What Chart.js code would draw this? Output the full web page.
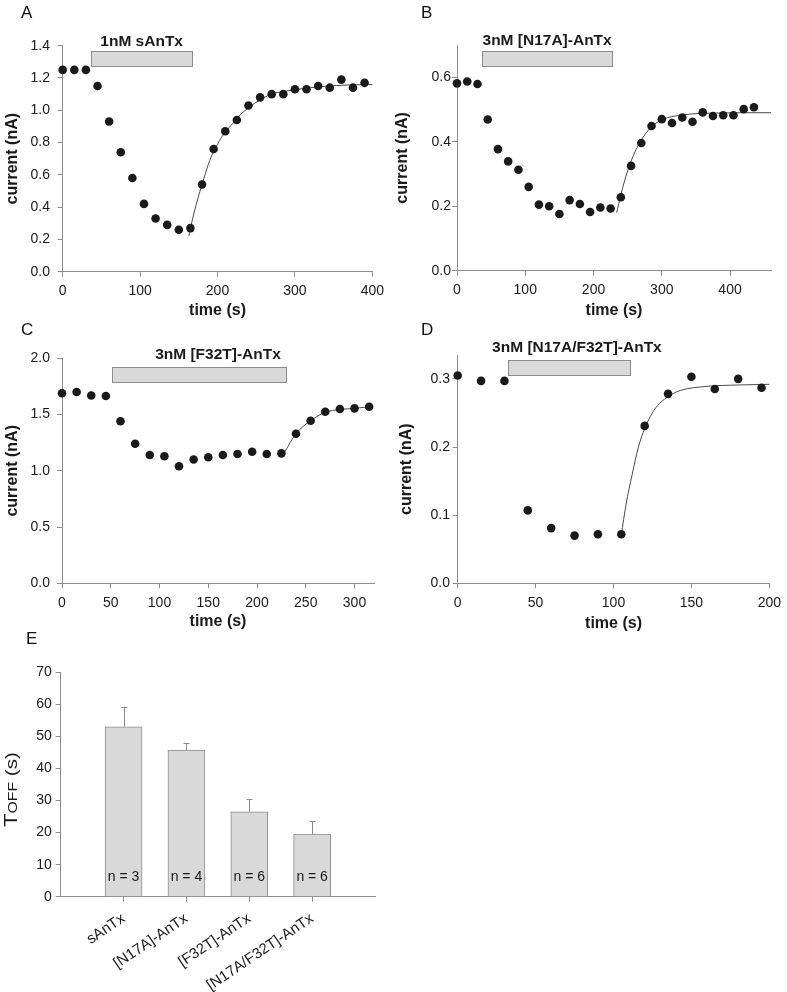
<!DOCTYPE html>
<html>
<head>
<meta charset="utf-8">
<script src="https://cdn.jsdelivr.net/npm/chart.js@4.4.0/dist/chart.umd.min.js"></script>
<style>
  html, body { margin: 0; padding: 0; background: #fff; }
  #fig { position: relative; width: 787px; height: 992px; overflow: hidden; font-family: 'Liberation Sans', Arial, sans-serif; }
  #fig canvas { position: absolute; }
  .tag { position: absolute; font-size: 17px; line-height: 17px; color: #111; }
</style>
</head>
<body>
<div id="fig">
  <canvas id="cA" width="390" height="330" style="left:0;top:0"></canvas>
  <canvas id="cB" width="397" height="330" style="left:390px;top:0"></canvas>
  <canvas id="cC" width="390" height="305" style="left:0;top:330px"></canvas>
  <canvas id="cD" width="397" height="305" style="left:390px;top:330px"></canvas>
  <canvas id="cE" width="400" height="362" style="left:0;top:630px"></canvas>
  <div class="tag" style="left:21px;top:4px">A</div>
  <div class="tag" style="left:421px;top:4px">B</div>
  <div class="tag" style="left:21px;top:321px">C</div>
  <div class="tag" style="left:421px;top:321px">D</div>
  <div class="tag" style="left:26px;top:630px">E</div>
</div>
<script>
// ---- data ----
// A: 1nM sAnTx
const timeA = [0, 15, 30, 45, 60, 75, 90, 105, 120, 135, 150, 165, 180, 195, 210, 225, 240, 255, 270, 285, 300, 315, 330, 345, 360, 375, 390];
const currentA = [1.25, 1.25, 1.25, 1.15, 0.93, 0.74, 0.58, 0.42, 0.33, 0.29, 0.26, 0.27, 0.54, 0.76, 0.87, 0.94, 1.03, 1.08, 1.10, 1.10, 1.13, 1.13, 1.15, 1.14, 1.19, 1.14, 1.17];
const fitTimeA = [163, 166, 170, 175, 180, 190, 200, 210, 220, 230, 240, 255, 270, 290, 320, 360, 400];
const fitA = [0.22, 0.29, 0.37, 0.46, 0.54, 0.69, 0.79, 0.865, 0.92, 0.975, 1.015, 1.065, 1.10, 1.12, 1.14, 1.155, 1.16];

// B: 3nM [N17A]-AnTx
const timeB = [0, 15, 30, 45, 60, 75, 90, 105, 120, 135, 150, 165, 180, 195, 210, 225, 240, 255, 270, 285, 300, 315, 330, 345, 360, 375, 390, 405, 420, 435];
const currentB = [0.581, 0.587, 0.579, 0.469, 0.377, 0.339, 0.313, 0.26, 0.205, 0.20, 0.176, 0.219, 0.207, 0.182, 0.196, 0.193, 0.228, 0.325, 0.396, 0.449, 0.47, 0.458, 0.475, 0.462, 0.491, 0.48, 0.482, 0.482, 0.501, 0.507];
const fitTimeB = [234, 240, 250, 260, 270, 280, 290, 300, 315, 330, 350, 380, 420, 460];
const fitB = [0.18, 0.235, 0.31, 0.365, 0.405, 0.435, 0.455, 0.468, 0.478, 0.483, 0.487, 0.489, 0.49, 0.49];

// C: 3nM [F32T]-AnTx
const timeC = [0, 15, 30, 45, 60, 75, 90, 105, 120, 135, 150, 165, 180, 195, 210, 225, 240, 255, 270, 285, 300, 315];
const currentC = [1.69, 1.70, 1.67, 1.665, 1.44, 1.24, 1.14, 1.13, 1.04, 1.10, 1.12, 1.14, 1.15, 1.17, 1.15, 1.155, 1.33, 1.445, 1.525, 1.55, 1.555, 1.57];
const fitTimeC = [228, 240, 255, 270, 285, 300, 316];
const fitC = [1.16, 1.33, 1.445, 1.52, 1.545, 1.555, 1.57];

// D: 3nM [N17A/F32T]-AnTx
const timeD = [0, 15, 30, 45, 60, 75, 90, 105, 120, 135, 150, 165, 180, 195];
const currentD = [0.305, 0.297, 0.297, 0.107, 0.081, 0.07, 0.072, 0.072, 0.231, 0.278, 0.303, 0.285, 0.30, 0.287];
const fitTimeD = [105, 108, 112, 116, 120, 126, 135, 143, 160, 180, 200];
const fitD = [0.071, 0.115, 0.16, 0.2, 0.227, 0.254, 0.274, 0.283, 0.289, 0.291, 0.292];

// E: off time constants
const compounds = ['sAnTx', '[N17A]-AnTx', '[F32T]-AnTx', '[N17A/F32T]-AnTx'];
const tauOff = [53, 45.7, 26.5, 19.5];
const tauErr = [6.1, 2.1, 4.0, 4.1];
const nCells = [3, 4, 6, 6];

// toxin application bars (data units)
const drugA = { from: 36, to: 167, lo: 1.276, hi: 1.369, text: '1nM sAnTx', textAt: 102, textY: 1.425 };
const drugB = { from: 36, to: 227, lo: 0.634, hi: 0.680, text: '3nM [N17A]-AnTx', textAt: 132, textY: 0.7136 };
const drugC = { from: 51.6, to: 229.3, lo: 1.787, hi: 1.925, text: '3nM [F32T]-AnTx', textAt: 160, textY: 2.029 };
const drugD = { from: 32.2, to: 110.6, lo: 0.306, hi: 0.328, text: '3nM [N17A/F32T]-AnTx', textAt: 76.5, textY: 0.346 };

// ---- style ----
const FONT = "'Liberation Sans', Arial, sans-serif";
const INK = '#1a1a1a', AXIS = '#8e8e8e', FILL = '#d9d9d9', EDGE = '#8c8c8c', FIT = '#4a4a4a';

const xy = (xs, ys) => xs.map((x, i) => ({ x, y: ys[i] }));

const drugBar = {
  id: 'drugBar',
  beforeDatasetsDraw(chart, args, o) {
    if (!o || !o.text) return;
    const { ctx, scales: { x, y } } = chart;
    const x0 = Math.round(x.getPixelForValue(o.from)) + 0.5, x1 = Math.round(x.getPixelForValue(o.to)) + 0.5;
    const y0 = Math.round(y.getPixelForValue(o.hi)) + 0.5, y1 = Math.round(y.getPixelForValue(o.lo)) + 0.5;
    ctx.save();
    ctx.fillStyle = FILL; ctx.fillRect(x0, y0, x1 - x0, y1 - y0);
    ctx.strokeStyle = EDGE; ctx.lineWidth = 1; ctx.strokeRect(x0, y0, x1 - x0, y1 - y0);
    ctx.font = 'bold 15.5px ' + FONT; ctx.fillStyle = INK;
    ctx.textAlign = 'center'; ctx.textBaseline = 'middle';
    ctx.fillText(o.text, x.getPixelForValue(o.textAt), y.getPixelForValue(o.textY));
    ctx.restore();
  }
};

// geometry g: canvas w/h and plot box L,T,R,B (canvas pixels)
function tickAxis(max, step, digits, extra) {
  return Object.assign({
    type: 'linear', min: 0, max,
    grid: { drawOnChartArea: false, drawTicks: true, tickLength: 5, color: AXIS },
    border: { color: AXIS, width: 1 },
    ticks: { stepSize: step, includeBounds: false, autoSkip: false, maxRotation: 0, color: INK,
      font: { family: FONT, size: 14 }, callback: (v) => Number(v).toFixed(digits) }
  }, extra);
}

function trace(id, g, t, c, ft, fc, s, drug) {
  const xAx = tickAxis(s.xmax, s.xstep, 0, {
    title: { display: true, text: 'time (s)', color: INK, font: { family: FONT, size: 16, weight: 'bold' }, padding: { top: 0, bottom: g.xtb } },
    afterFit: (sc) => { sc.height = g.h - g.B; }
  });
  xAx.ticks.padding = 6;
  const yAx = tickAxis(s.ymax, s.ystep, 1, {
    title: { display: true, text: 'current (nA)', color: INK, font: { family: FONT, size: 16, weight: 'bold' }, padding: { top: g.ytp, bottom: 0 } },
    afterFit: (sc) => { sc.width = g.L; }
  });
  yAx.ticks.padding = g.ypad;
  return new Chart(document.getElementById(id), {
    type: 'scatter',
    data: { datasets: [
      { data: xy(t, c), pointRadius: 4.3, pointHoverRadius: 4.3, pointBackgroundColor: INK, pointBorderWidth: 0, showLine: false, clip: false },
      { data: xy(ft, fc), showLine: true, pointRadius: 0, borderColor: FIT, borderWidth: 1, cubicInterpolationMode: 'monotone', clip: false }
    ] },
    options: {
      responsive: false, animation: false, events: [],
      layout: { padding: { top: g.T, right: g.w - g.R, left: 0, bottom: 0 } },
      plugins: { legend: { display: false }, tooltip: { enabled: false }, drugBar: drug },
      scales: { x: xAx, y: yAx }
    },
    plugins: [drugBar]
  });
}

trace('cA', { w: 390, h: 330, L: 62.7, T: 45.7, R: 375.7, B: 271.7, xtb: 9.4, ytp: 3.4, ypad: 7.7 },
  timeA, currentA, fitTimeA, fitA, { xmax: 400, xstep: 100, ymax: 1.4, ystep: 0.2 }, drugA);
trace('cB', { w: 397, h: 330, L: 67, T: 45, R: 381, B: 270.7, xtb: 9.9, ytp: 3.2, ypad: 1 },
  timeB, currentB, fitTimeB, fitB, { xmax: 460, xstep: 100, ymax: 0.7, ystep: 0.2 }, drugB);
trace('cC', { w: 390, h: 305, L: 62, T: 28.3, R: 374, B: 253.3, xtb: 3.7, ytp: 3.2, ypad: 7 },
  timeC, currentC, fitTimeC, fitC, { xmax: 320, xstep: 50, ymax: 2.0, ystep: 0.5 }, drugC);
trace('cD', { w: 397, h: 305, L: 67.7, T: 25, R: 382.3, B: 253.3, xtb: 2.1, ytp: 6.7, ypad: 2.7 },
  timeD, currentD, fitTimeD, fitD, { xmax: 200, xstep: 50, ymax: 0.335, ystep: 0.1 }, drugD);

// ---- E: bar chart with error bars ----
const barExtras = {
  id: 'barExtras',
  afterDatasetsDraw(chart) {
    const { ctx, scales: { y } } = chart;
    const meta = chart.getDatasetMeta(0);
    ctx.save();
    ctx.strokeStyle = '#8a8a8a'; ctx.lineWidth = 1;
    meta.data.forEach((bar, i) => {
      const cx = Math.round(bar.x) + 0.5;
      const top = Math.round(y.getPixelForValue(tauOff[i] + tauErr[i])) + 0.5;
      ctx.beginPath();
      ctx.moveTo(cx, bar.y); ctx.lineTo(cx, top);
      ctx.moveTo(cx - 3, top); ctx.lineTo(cx + 3, top);
      ctx.stroke();
    });
    ctx.fillStyle = INK; ctx.font = '14px ' + FONT; ctx.textAlign = 'center'; ctx.textBaseline = 'middle';
    meta.data.forEach((bar, i) => ctx.fillText('n = ' + nCells[i], bar.x, y.getPixelForValue(6)));
    ctx.restore();
  },
  afterDraw(chart) {
    // y title: T with small-caps OFF, then (s)
    const { ctx } = chart;
    ctx.save();
    ctx.translate(17, 197);
    ctx.rotate(-Math.PI / 2);
    ctx.fillStyle = INK; ctx.textBaseline = 'alphabetic'; ctx.textAlign = 'left';
    const parts = [['T', '18px'], ['OFF', '13px'], [' (s)', '17px']];
    let total = 0;
    parts.forEach((p) => { ctx.font = p[1] + ' ' + FONT; total += ctx.measureText(p[0]).width; });
    ctx.scale(75 / total, 1);
    let x = 0;
    parts.forEach((p) => { ctx.font = p[1] + ' ' + FONT; ctx.fillText(p[0], x, 0); x += ctx.measureText(p[0]).width; });
    ctx.restore();
  }
};

const gE = { w: 400, h: 362, L: 60.7, T: 42.3, R: 375, B: 266.7 };
const xE = tickAxis(5, 1, 0, {
  offset: false,
  afterFit: (sc) => { sc.height = gE.h - gE.B; },
  afterBuildTicks: (sc) => { sc.ticks = sc.ticks.filter((tk) => tk.value >= 1 && tk.value <= 4); }
});
xE.grid.offset = false;
xE.ticks = { stepSize: 1, autoSkip: false, minRotation: 34, maxRotation: 34, padding: 8, color: INK,
  font: { family: FONT, size: 15 }, callback: (v) => compounds[v - 1] || '' };
const yE = tickAxis(70, 10, 0, { afterFit: (sc) => { sc.width = gE.L; } });
yE.ticks.padding = 4;

new Chart(document.getElementById('cE'), {
  type: 'bar',
  data: { datasets: [{
    data: tauOff.map((v, i) => ({ x: i + 1, y: v })),
    backgroundColor: FILL, borderColor: EDGE, borderWidth: 1, barThickness: 37
  }] },
  options: {
    responsive: false, animation: false, events: [],
    layout: { padding: { top: gE.T, right: gE.w - gE.R, left: 0, bottom: 0 } },
    plugins: { legend: { display: false }, tooltip: { enabled: false } },
    scales: { x: xE, y: yE }
  },
  plugins: [barExtras]
});
</script>
</body>
</html>
